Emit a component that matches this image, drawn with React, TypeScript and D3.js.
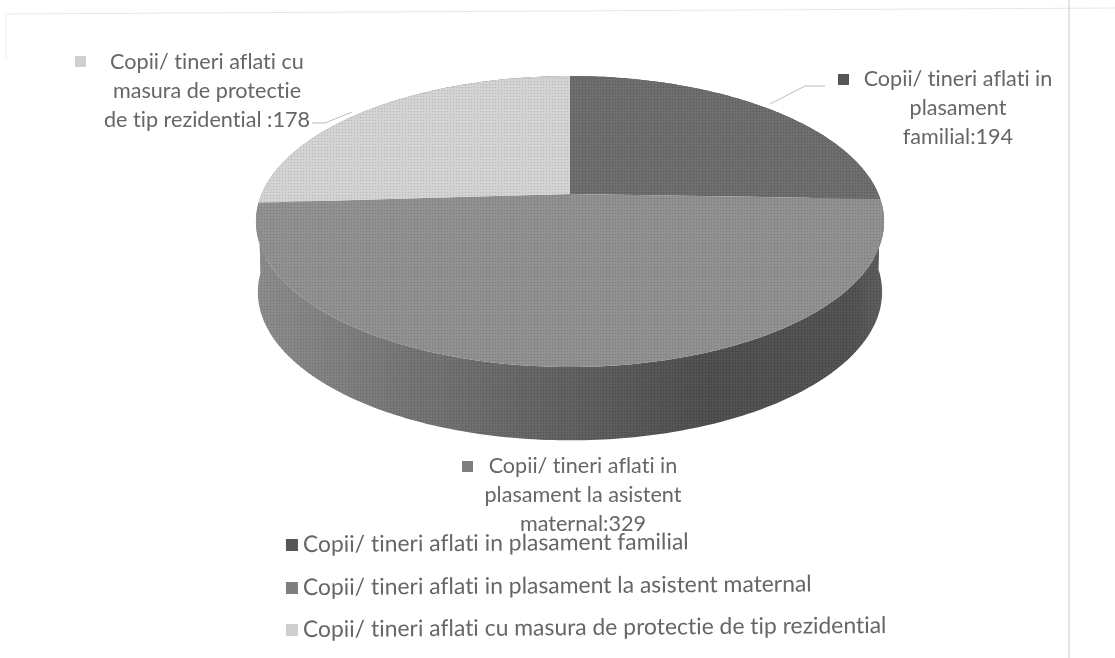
import React from 'react';
import * as d3 from 'd3';

const width = 1115;
const height = 658;

const legendNames = [
  'Copii/ tineri aflati in plasament familial',
  'Copii/ tineri aflati in plasament la asistent maternal',
  'Copii/ tineri aflati cu masura de protectie de tip rezidential',
];
// numbers printed on the data labels
const labelValues = [194, 329, 178];
// share of the disc each slice really takes in the picture (the printed numbers do not match it)
const drawnShares = [92, 174.5, 93.5];

const topColors = ['#6a6a6a', '#8e8e8e', '#d2d2d2'];
const markerColors = ['#565656', '#7f7f7f', '#cfcfcf'];

const labelLines = [
  ['Copii/ tineri aflati in', 'plasament', 'familial:' + labelValues[0]],
  ['Copii/ tineri aflati in', 'plasament la asistent', 'maternal:' + labelValues[1]],
  ['Copii/ tineri aflati cu', 'masura de protectie', 'de tip rezidential :' + labelValues[2]],
];

const FONT = 'Lato, "Open Sans", sans-serif';
const TEXT = '#666';

// disc seen in perspective: k pushes the far edge back
const k = 0.189;
const cx = 570;
const top = { py: 194, sx: 308.4, sy: 140.3 };
const bottom = { py: 264, sx: 306.5, sy: 143 };

type Disc = typeof top;

function project(a: number, d: Disc): [number, number] {
  const u = Math.sin(a);
  const v = -Math.cos(a);
  const w = 1 - k * v;
  return [cx + (d.sx * u) / w, d.py + (d.sy * v) / w];
}

const line = d3.line();

function arcPoints(a0: number, a1: number, d: Disc) {
  const n = Math.max(2, Math.ceil((a1 - a0) * 60));
  return d3.range(n + 1).map(i => project(a0 + ((a1 - a0) * i) / n, d));
}

const arcs = d3.pie<number>().sort(null).value(d => d)(drawnShares);

const LabelBlock: React.FC<{ lines: string[]; x: number; y: number; mx: number; my: number; color: string }> = ({
  lines, x, y, mx, my, color,
}) => (
  <g>
    <rect x={mx} y={my} width={11} height={11} fill={color} />
    {lines.map((t, i) => (
      <text key={i} x={x} y={y + i * 29} textAnchor="middle" fontSize={21.6} fontFamily={FONT} fill={TEXT}
        style={{ fontVariantLigatures: 'none' }}>{t}</text>
    ))}
  </g>
);

export default function App() {
  const wall = arcs.map(s => {
    const upper = arcPoints(s.startAngle, s.endAngle, top);
    const lower = arcPoints(s.startAngle, s.endAngle, bottom).reverse();
    return line([...upper, ...lower]) + 'Z';
  });
  const faces = arcs.map(s => line([[cx, top.py], ...arcPoints(s.startAngle, s.endAngle, top)]) + 'Z');

  return (
    <svg width={width} height={height} style={{ position: 'absolute', left: 0, top: 0, background: '#fff' }}>
      <defs>
        <linearGradient id="wallFill" gradientUnits="userSpaceOnUse" x1={255} x2={885} y1={0} y2={0}>
          <stop offset="0" stopColor="#8a8a8a" />
          <stop offset="0.25" stopColor="#727272" />
          <stop offset="0.5" stopColor="#5e5e5e" />
          <stop offset="0.72" stopColor="#4c4c4c" />
          <stop offset="0.95" stopColor="#505050" />
          <stop offset="1" stopColor="#5c5c5c" />
        </linearGradient>
        <pattern id="screen" width={3} height={3} patternUnits="userSpaceOnUse">
          <rect x={0} y={0} width={1} height={1} fill="#000" opacity={0.12} />
          <rect x={1.5} y={1.5} width={1} height={1} fill="#fff" opacity={0.12} />
        </pattern>
        <filter id="scan" x="-2%" y="-2%" width="104%" height="104%">
          <feGaussianBlur stdDeviation={0.45} />
        </filter>
      </defs>

      <g filter="url(#scan)">
        {/* page frame */}
        <line x1={5} y1={14} x2={1115} y2={8} stroke="#e6e6e6" strokeWidth={1} />
        <line x1={6} y1={14} x2={6} y2={60} stroke="#f0f0f0" strokeWidth={1} />
        <line x1={1069} y1={0} x2={1069} y2={658} stroke="#d4d4d4" strokeWidth={1.2} />

        {wall.map((d, i) => (
          <path key={i} d={d} fill="url(#wallFill)" />
        ))}
        <path d={wall.join('')} fill="url(#screen)" />
        {faces.map((d, i) => (
          <path key={i} d={d} fill={topColors[i]} />
        ))}
        <path d={faces.join('')} fill="url(#screen)" />

        {/* leader lines */}
        <polyline points="770,104 805,86 825,86" fill="none" stroke="#bdbdbd" strokeWidth={1} />
        <polyline points="312,123 325,123 352,112" fill="none" stroke="#bdbdbd" strokeWidth={1} />

        <LabelBlock lines={labelLines[0]} x={958} y={86} mx={838} my={74} color={markerColors[0]} />
        <LabelBlock lines={labelLines[1]} x={583} y={473} mx={462} my={461} color={markerColors[1]} />
        <LabelBlock lines={labelLines[2]} x={207} y={69} mx={75} my={56} color={markerColors[2]} />

        {legendNames.map((name, i) => {
          const y = [552, 595, 637][i];
          return (
            <g key={name} transform={`rotate(-0.4 303 ${y})`}>
              <rect x={286} y={y - 13} width={12} height={12} fill={markerColors[i]} />
              <text x={303} y={y} fontSize={22.9} fontFamily={FONT} fill={TEXT}
                style={{ fontVariantLigatures: 'none' }}>{name}</text>
            </g>
          );
        })}
      </g>
    </svg>
  );
}
